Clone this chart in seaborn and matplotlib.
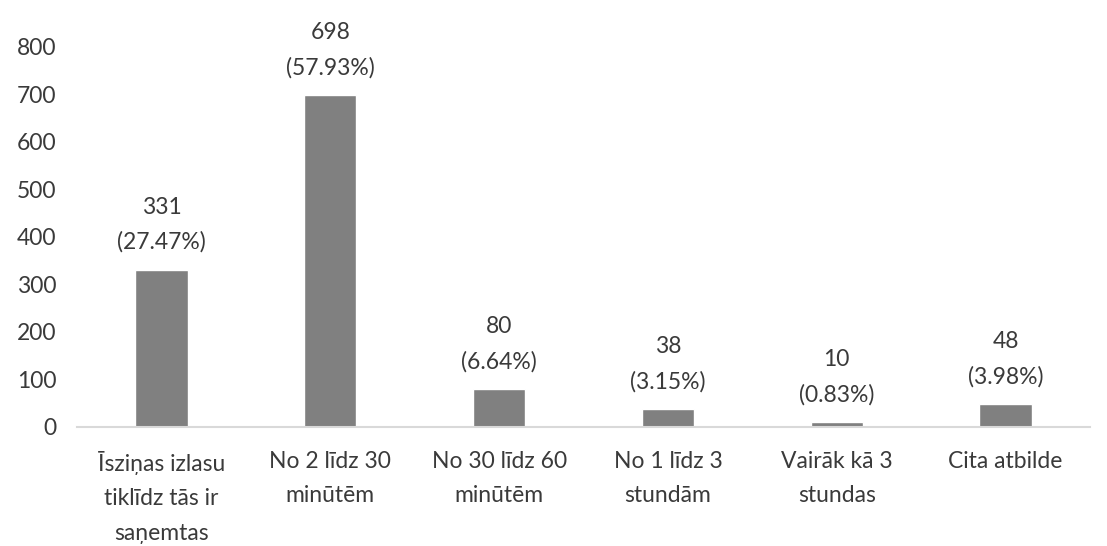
import matplotlib
matplotlib.use("Agg")
import matplotlib.pyplot as plt
import seaborn as sns
import pandas as pd

categories = ["Īsziņas izlasu\ntiklīdz tās ir\nsaņemtas", "No 2 līdz 30\nminūtēm",
              "No 30 līdz 60\nminūtēm", "No 1 līdz 3\nstundām",
              "Vairāk kā 3\nstundas", "Cita atbilde"]
counts = [331, 698, 80, 38, 10, 48]
percents = ["27.47%", "57.93%", "6.64%", "3.15%", "0.83%", "3.98%"]
yticks = [0, 100, 200, 300, 400, 500, 600, 700, 800]

sns.set_theme(style="white")
plt.rcParams['font.family'] = ['Lato', 'DejaVu Sans']

df = pd.DataFrame({"cat": categories, "n": counts})

fig = plt.figure(figsize=(11.07, 5.46), dpi=100)
ax = fig.add_axes([0.0696, 0.218, 0.915, 0.696])
sns.barplot(data=df, x="cat", y="n", color="#808080", saturation=1, width=0.31, ax=ax)

txtc = "#3a3a3a"
fs = 16.5
for i, (c, p) in enumerate(zip(counts, percents)):
    ax.annotate(f"{c}\n({p})", xy=(i, c), xytext=(0, 12), textcoords="offset points",
                ha="center", va="bottom", fontsize=fs, color=txtc,
                linespacing=1.8, annotation_clip=False)

ax.set_ylim(0, 800)
ax.set_xlim(-0.5, 5.5)
ax.set_yticks(yticks)
ax.set_yticklabels([str(v) for v in yticks])
ax.set_xlabel("")
ax.set_ylabel("")
for s in ["left", "top", "right"]:
    ax.spines[s].set_visible(False)
ax.spines["bottom"].set_color("#d9d9d9")
ax.spines["bottom"].set_linewidth(1.5)
ax.tick_params(axis="both", length=0, labelsize=fs, colors=txtc)
ax.tick_params(axis="y", pad=15)
ax.tick_params(axis="x", pad=17)
for t in ax.get_xticklabels():
    t.set_linespacing(1.8)
ax.grid(False)

fig.savefig("out.png", dpi=100)
